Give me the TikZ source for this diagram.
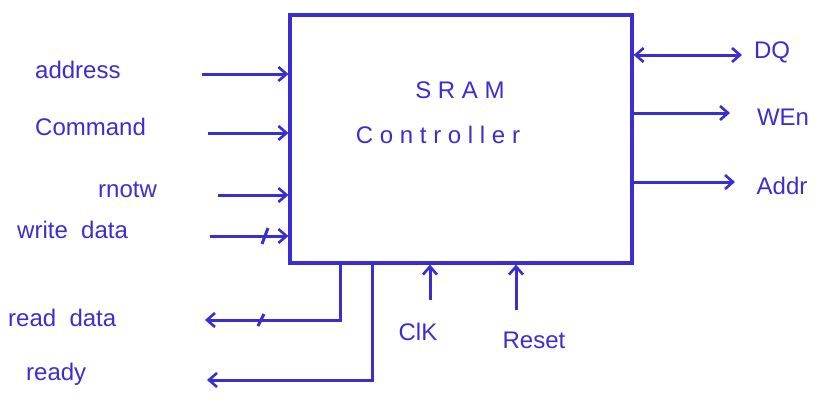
\documentclass[tikz,border=0pt]{standalone}
\usepackage{fontspec}
\setmainfont{Liberation Sans}
\usetikzlibrary{arrows.meta,calc}
\definecolor{pen}{HTML}{3B2ED0}
\begin{document}
\begin{tikzpicture}[x=1pt,y=-1pt,
  wire/.style={draw=pen,line width=3pt},
  arr/.style={wire,-{Straight Barb[length=8pt,width=14pt,line width=2.6pt]}},
  darr/.style={wire,{Straight Barb[length=8pt,width=14pt,line width=2.6pt]}-{Straight Barb[length=8pt,width=14pt,line width=2.6pt]}},
  lbl/.style={text=pen,font=\fontsize{24}{26}\selectfont,inner sep=0pt},
  box/.style={draw=pen,line width=3.2pt,minimum width=342pt,minimum height=248pt,inner sep=0pt}]
\useasboundingbox (0,0) rectangle (834,402);
\node[box] (ctl) at (461,139) {};
\node[lbl] (t1) at (460,90) {S R A M};
\node[lbl] (t2) at (438,135) {C o n t r o l l e r};
% left inputs
\node[lbl,anchor=west] (laddr) at (35,70) {address};
\node[lbl,anchor=west] (lcmd) at (35,127) {Command};
\node[lbl,anchor=west] (lrw) at (98,190) {rnotw};
\node[lbl,anchor=west] (lwd) at (17,230) {write \ data};
\coordinate (saddr) at (202,74);
\coordinate (scmd) at (208,133);
\coordinate (srw) at (218,195);
\coordinate (swd) at (210,236);
\draw[arr] (saddr) -- (saddr -| ctl.west);
\draw[arr] (scmd) -- (scmd -| ctl.west);
\draw[arr] (srw) -- (srw -| ctl.west);
\draw[arr] (swd) -- (swd -| ctl.west);
\coordinate (tk1) at (265,236);
\draw[wire] ($(tk1)+(-3,8)$) -- ($(tk1)+(3,-8)$);
% right outputs
\node[lbl] (ldq) at (772,52) {DQ};
\node[lbl] (lwe) at (783,117) {WEn};
\node[lbl] (laddr2) at (782,186) {Addr};
\coordinate (edq) at (742,55);
\coordinate (ewe) at (730,113);
\coordinate (ead) at (735,182);
\draw[darr] (edq -| ctl.east) -- (edq);
\draw[arr] (ewe -| ctl.east) -- (ewe);
\draw[arr] (ead -| ctl.east) -- (ead);
% bottom
\coordinate (rdx) at (340,263);
\coordinate (rdc) at (340,320);
\coordinate (rde) at (205,320);
\coordinate (rdyx) at (372,263);
\coordinate (rdyc) at (372,380);
\coordinate (rdye) at (207,380);
\draw[arr] (rdx |- ctl.south) -- (rdc) -- (rde);
\draw[wire] (258,326) -- (264,314);
\draw[arr] (rdyx |- ctl.south) -- (rdyc) -- (rdye);
\node[lbl,anchor=west] (lrd) at (8,318) {read \ data};
\node[lbl,anchor=west] (lrdy) at (26,374) {ready};
\coordinate (sclk) at (430,300);
\coordinate (srst) at (516,310);
\draw[arr] (sclk) -- (sclk |- ctl.south);
\draw[arr] (srst) -- (srst |- ctl.south);
\node[lbl] (lclk) at (418,332) {ClK};
\node[lbl] (lrst) at (534,340) {Reset};
\end{tikzpicture}
\end{document}
